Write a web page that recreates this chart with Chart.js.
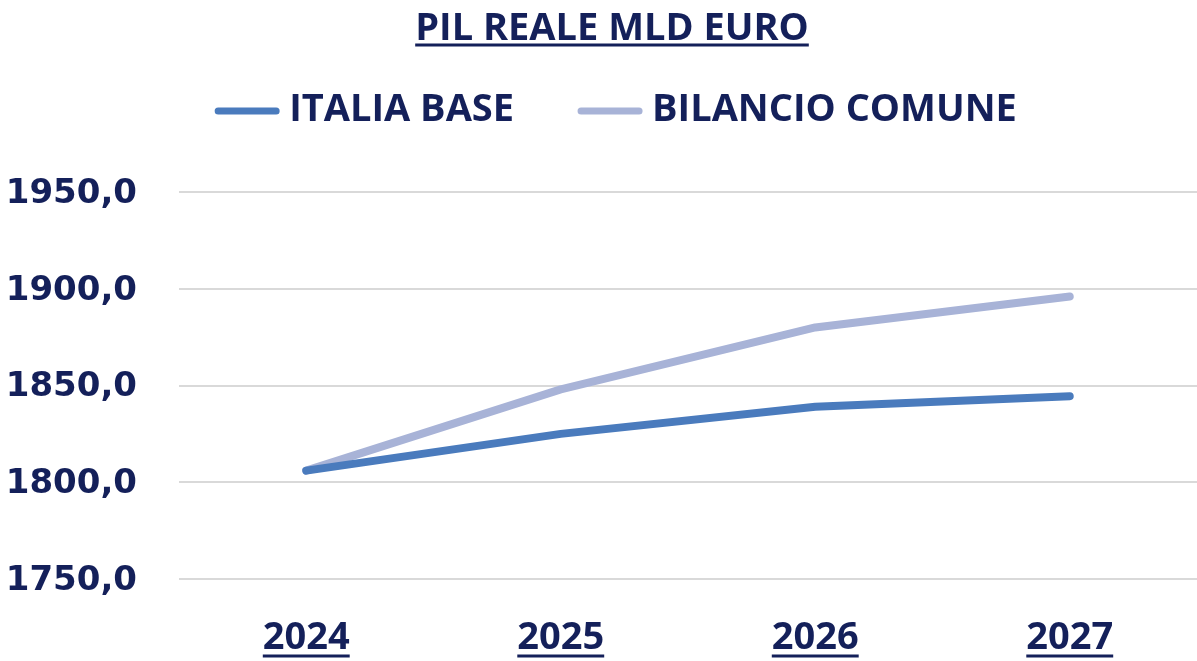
<!DOCTYPE html>
<html lang="it">
<head>
<meta charset="utf-8">
<title>PIL reale mld euro</title>
<script src="https://cdn.jsdelivr.net/npm/chart.js@4.4.1/dist/chart.umd.min.js"></script>
<style>
  html, body { margin: 0; padding: 0; background: #ffffff; }
  #wrap { position: relative; width: 1197px; height: 661px; }
</style>
</head>
<body>
<div id="wrap"><canvas id="pil"></canvas></div>
<script>
// Anni e serie del PIL reale (miliardi di euro)
const years = ['2024', '2025', '2026', '2027'];
const italiaBase = [1806, 1825, 1839, 1844.5];
const bilancioComune = [1806, 1848, 1880, 1896];
const seriesNames = ['ITALIA BASE', 'BILANCIO COMUNE'];
const yTicks = [1750, 1800, 1850, 1900, 1950];
const yTickLabels = ['1750,0', '1800,0', '1850,0', '1900,0', '1950,0'];

const INK = '#14205a';
const LABEL_FONT = '"Open Sans", sans-serif';
const NUM_FONT = '"DejaVu Sans", sans-serif';
const HEADER_SHIFT = 27; // title and legend sit a little right of the page centre

// Underlined title and x labels, plus a line-style legend
const decorations = {
  id: 'decorations',
  afterLayout(chart) {
    chart.titleBlock.left += HEADER_SHIFT;
  },
  afterDraw(chart) {
    const ctx = chart.ctx;
    ctx.save();
    ctx.fillStyle = INK;
    ctx.strokeStyle = INK;

    // title underline
    const tb = chart.titleBlock;
    const tOpts = chart.options.plugins.title;
    ctx.font = '700 38px ' + LABEL_FONT;
    const tw = ctx.measureText(tOpts.text).width;
    const tcx = (tb.left + tb.right) / 2;
    ctx.lineWidth = 3;
    ctx.beginPath();
    ctx.moveTo(tcx - tw / 2, 45);
    ctx.lineTo(tcx + tw / 2, 45);
    ctx.stroke();

    // legend
    ctx.font = '700 38px ' + LABEL_FONT;
    const lineLen = 64, gap = 10, itemGap = 64, ly = 110;
    const items = chart.data.datasets.map(ds => ({
      label: ds.label, color: ds.borderColor, w: ctx.measureText(ds.label).width
    }));
    let total = 0;
    items.forEach((it, i) => { total += lineLen + gap + it.w + (i ? itemGap : 0); });
    let x = tcx + 4 - total / 2;
    ctx.textBaseline = 'middle';
    ctx.textAlign = 'left';
    items.forEach((it, i) => {
      if (i) x += itemGap;
      ctx.strokeStyle = it.color;
      ctx.lineWidth = 7;
      ctx.lineCap = 'round';
      ctx.beginPath();
      ctx.moveTo(x + 3, ly + 1);
      ctx.lineTo(x + lineLen - 3, ly + 1);
      ctx.stroke();
      x += lineLen + gap;
      ctx.fillStyle = INK;
      ctx.fillText(it.label, x, ly);
      x += it.w;
    });

    // x label underlines
    const xs = chart.scales.x;
    ctx.font = '700 38px ' + LABEL_FONT;
    ctx.strokeStyle = INK;
    ctx.lineWidth = 3;
    ctx.lineCap = 'butt';
    years.forEach((y, i) => {
      const px = xs.getPixelForTick(i);
      const w = ctx.measureText(y).width;
      ctx.beginPath();
      ctx.moveTo(px - w / 2, 656);
      ctx.lineTo(px + w / 2, 656);
      ctx.stroke();
    });
    ctx.restore();
  }
};

new Chart(document.getElementById('pil'), {
  type: 'line',
  data: {
    labels: years,
    datasets: [
      {
        label: seriesNames[0],
        data: italiaBase,
        borderColor: '#4a7bbd',
        borderWidth: 8,
        pointRadius: 0,
        tension: 0,
        borderCapStyle: 'round',
        borderJoinStyle: 'round'
      },
      {
        label: seriesNames[1],
        data: bilancioComune,
        borderColor: '#a8b3d7',
        borderWidth: 8,
        pointRadius: 0,
        tension: 0,
        borderCapStyle: 'round',
        borderJoinStyle: 'round'
      }
    ]
  },
  options: {
    responsive: true,
    maintainAspectRatio: false,
    animation: false,
    layout: { padding: { left: 0, right: 0, top: 0, bottom: 0 } },
    plugins: {
      legend: { display: false },
      tooltip: { enabled: false },
      title: {
        display: true,
        text: 'PIL REALE MLD EURO',
        color: INK,
        font: { family: LABEL_FONT, size: 38, weight: '700', lineHeight: 1.2 },
        padding: { top: 6, bottom: 140.4 }
      }
    },
    scales: {
      x: {
        offset: true,
        grid: { display: false, drawTicks: false },
        border: { display: false },
        ticks: {
          color: INK,
          padding: 36,
          font: { family: LABEL_FONT, size: 38, weight: '700' }
        },
        afterFit(scale) { scale.height = 82; }
      },
      y: {
        min: 1750,
        max: 1950,
        afterBuildTicks(scale) { scale.ticks = yTicks.map(v => ({ value: v })); },
        grid: { color: '#d9d9d9', lineWidth: 2, drawTicks: false },
        border: { display: false },
        ticks: {
          color: INK,
          padding: 42,
          labelOffset: 2,
          font: { family: NUM_FONT, size: 34, weight: '700' },
          callback: (v, i) => yTickLabels[i]
        },
        afterFit(scale) { scale.width = 179; }
      }
    }
  },
  plugins: [decorations]
});
</script>
</body>
</html>
